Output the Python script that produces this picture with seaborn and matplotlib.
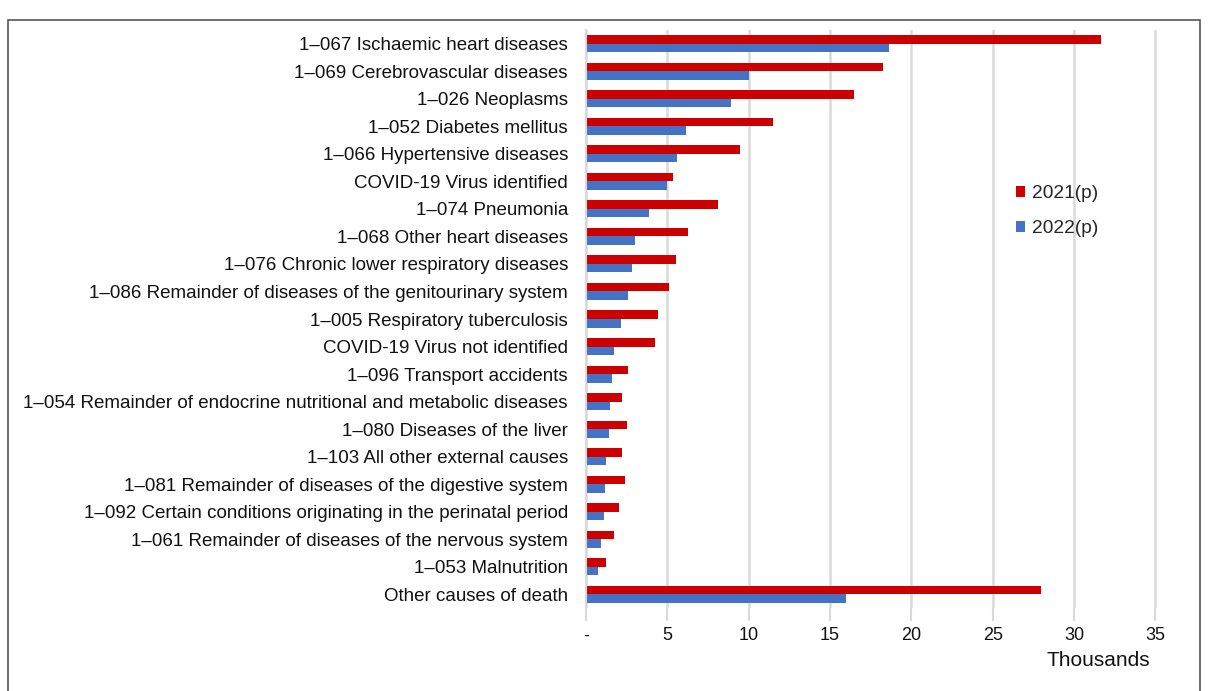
import numpy as np
import pandas as pd
import matplotlib.pyplot as plt
import seaborn as sns
from matplotlib.patches import Rectangle
from matplotlib.ticker import FuncFormatter

# categories, top to bottom
CAUSES = [
    "1\u2013067 Ischaemic heart diseases",
    "1\u2013069 Cerebrovascular diseases",
    "1\u2013026 Neoplasms",
    "1\u2013052 Diabetes mellitus",
    "1\u2013066 Hypertensive diseases",
    "COVID-19 Virus identified",
    "1\u2013074 Pneumonia",
    "1\u2013068 Other heart diseases",
    "1\u2013076 Chronic lower respiratory diseases",
    "1\u2013086 Remainder of diseases of the genitourinary system",
    "1\u2013005 Respiratory tuberculosis",
    "COVID-19 Virus not identified",
    "1\u2013096 Transport accidents",
    "1\u2013054 Remainder of endocrine nutritional and metabolic diseases",
    "1\u2013080 Diseases of the liver",
    "1\u2013103 All other external causes",
    "1\u2013081 Remainder of diseases of the digestive system",
    "1\u2013092 Certain conditions originating in the perinatal period",
    "1\u2013061 Remainder of diseases of the nervous system",
    "1\u2013053 Malnutrition",
    "Other causes of death",
]

# deaths, thousands
DEATHS_2021 = [31.65, 18.25, 16.5, 11.5, 9.45, 5.35, 8.1, 6.3, 5.55, 5.1, 4.4,
               4.25, 2.6, 2.2, 2.55, 2.2, 2.4, 2.0, 1.72, 1.2, 27.95]
DEATHS_2022 = [18.6, 10.0, 8.9, 6.15, 5.6, 5.0, 3.9, 3.0, 2.85, 2.6, 2.15,
               1.7, 1.6, 1.5, 1.4, 1.23, 1.17, 1.13, 0.9, 0.76, 16.0]

YEARS = ["2021(p)", "2022(p)"]
COLORS = ["#CC0000", "#4472C4"]

df = pd.DataFrame({
    "cause": CAUSES * 2,
    "deaths": DEATHS_2021 + DEATHS_2022,
    "year": [YEARS[0]] * len(CAUSES) + [YEARS[1]] * len(CAUSES),
})

sns.set_style("white")
plt.rcParams["font.family"] = ["Liberation Sans", "DejaVu Sans"]

fig = plt.figure(figsize=(12.08, 6.91), dpi=100)
ax = fig.add_axes([586 / 1208, 1 - 608 / 691, 571 / 1208, 578 / 691])

sns.barplot(data=df, y="cause", x="deaths", hue="year", orient="h",
            palette=COLORS, width=0.62, saturation=1, linewidth=0, ax=ax)

ax.set_xlim(0, 35.1)
ax.set_xticks(np.arange(0, 36, 5))
ax.xaxis.set_major_formatter(FuncFormatter(lambda v, p: "-" if v == 0 else f"{v:.0f}"))
ax.grid(axis="x", color="#d9d9d9", linewidth=1.8)
ax.set_axisbelow(True)
for s in ["top", "right", "bottom"]:
    ax.spines[s].set_visible(False)
ax.spines["left"].set_color("#d9d9d9")
ax.spines["left"].set_linewidth(1.5)
ax.tick_params(axis="x", length=9, width=1.5, color="#d9d9d9", pad=5,
               labelsize=13, labelcolor="#111111", bottom=True)
ax.tick_params(axis="y", length=0, pad=13, labelsize=13.5, labelcolor="#111111")
ax.set_xlabel("")
ax.set_ylabel("")

fig.text(1098 / 1208, 1 - 660 / 691, "Thousands", ha="center", va="center",
         fontsize=15, color="#111111")

ax.legend(loc="upper left", bbox_to_anchor=(999 / 1208, 1 - 168 / 691),
          bbox_transform=fig.transFigure, frameon=False, fontsize=13.8,
          handlelength=0.47, handleheight=0.47, handletextpad=0.35,
          labelspacing=0.95, title=None)

# outer frame
fig.patches.append(Rectangle((8 / 1208, -0.01), 1192 / 1208, 1 - 20 / 691 + 0.01,
                             transform=fig.transFigure, fill=False,
                             edgecolor="#555555", linewidth=1.2))

fig.savefig("out.png", dpi=100)
